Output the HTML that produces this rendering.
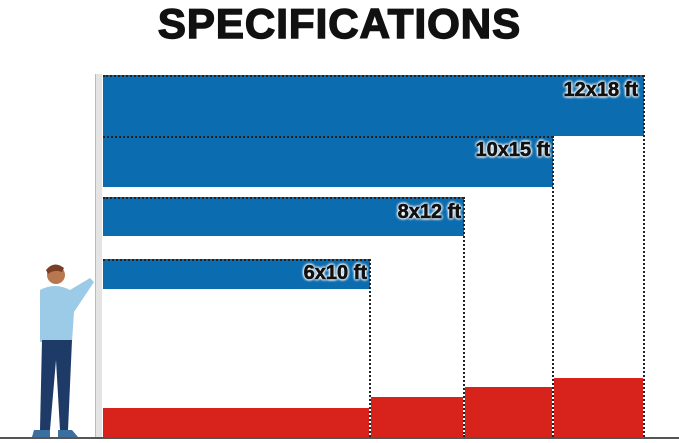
<!DOCTYPE html>
<html><head><style>
body{margin:0;width:679px;height:443px;background:#fff;position:relative;overflow:hidden;font-family:"Liberation Sans",sans-serif}
.t{position:absolute;left:0;width:679px;top:0;text-align:center;font-weight:900;font-size:42px;letter-spacing:1px;color:#111;-webkit-text-stroke:1.5px #111}
.b{position:absolute;background:#0b6cb0;border-top:2px dotted #222}
.r{position:absolute;background:#d8231d}
.v{position:absolute;border-left:2px dotted #222;width:0}
.l{position:absolute;font-weight:bold;font-size:20px;color:#111;text-align:right;width:120px;-webkit-text-stroke:0.6px #111;text-shadow:0 0 3px #fff,0 0 3px #fff,0 0 3px #fff,0 0 3px #fff,0 0 2px #fff}
</style></head><body>
<div class="t">SPECIFICATIONS</div>
<div style="position:absolute;left:95px;top:74px;width:6px;height:364px;background:#e4e4e4;border-left:1px solid #bbb"></div>
<div class="b" style="left:103px;top:75px;width:541px;height:59px"></div>
<div class="b" style="left:103px;top:136px;width:450px;height:49px"></div>
<div class="b" style="left:103px;top:197px;width:361px;height:37px"></div>
<div class="b" style="left:103px;top:259px;width:267px;height:28px"></div>
<div class="v" style="left:643px;top:75px;height:362px"></div>
<div class="v" style="left:552px;top:136px;height:301px"></div>
<div class="v" style="left:463px;top:197px;height:240px"></div>
<div class="v" style="left:369px;top:259px;height:178px"></div>
<div class="r" style="left:103px;top:408px;width:266px;height:29px"></div>
<div class="r" style="left:371px;top:397px;width:92px;height:40px"></div>
<div class="r" style="left:465px;top:387px;width:87px;height:50px"></div>
<div class="r" style="left:554px;top:378px;width:89px;height:59px"></div>
<div class="l" style="left:518px;top:79px">12x18 ft</div>
<div class="l" style="left:430px;top:139px">10x15 ft</div>
<div class="l" style="left:341px;top:201px">8x12 ft</div>
<div class="l" style="left:247px;top:262px">6x10 ft</div>
<div style="position:absolute;left:0;top:437px;width:679px;height:2px;background:#555"></div>
<svg style="position:absolute;left:0;top:0" width="679" height="443">
<circle cx="56" cy="275" r="9" fill="#b9774f"/><path d="M46 270 q8 -10 18 -2 l-2 4 q-8 -3 -14 2z" fill="#7a3e24"/>
<path d="M40 290 q15 -8 30 0 l20 -12 l4 4 l-20 30 l-2 30 l-32 0z" fill="#9ccbe8"/>
<path d="M42 340 l30 0 l-4 90 l-8 0 l-4 -70 l-6 70 l-10 0z" fill="#1e3a66"/>
<path d="M34 430 h16 v7 h-18z M58 430 h14 l6 7 h-20z" fill="#3b6fa0"/>
</svg>
</body></html>
